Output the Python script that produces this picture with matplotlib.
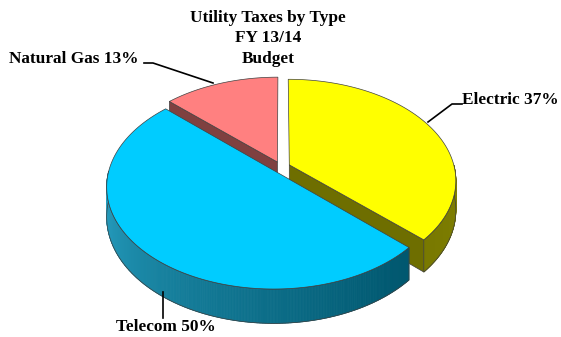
import numpy as np
import matplotlib
matplotlib.use("Agg")
import matplotlib.pyplot as plt
from matplotlib.patches import Polygon

# slice data, drawn clockwise from 12 o'clock
names = ["Electric", "Telecom", "Natural Gas"]
shares = [37, 50, 13]
top_colors = ["#FFFF00", "#00CCFF", "#FF8080"]
title_lines = ["Utility Taxes by Type", "FY 13/14", "Budget"]

# projection of the pie plane onto the page (pixel units)
CX, CY = 281, 167
SX, SY = 165, 99
Q = 0.15          # perspective: back smaller, front larger
DEPTH = 29
EXPLODE = 0.055

FONT = "Liberation Serif"
FS = 12.4


def project(X, Y, z=0.0):
    X = np.asarray(X, float)
    Y = np.asarray(Y, float)
    k = 1.0 / (1.0 + Q * Y)
    return CX + SX * X * k, CY - SY * Y * k + DEPTH * z * k


def mix(c1, c2, t):
    c1 = np.array(c1) / 255.0
    c2 = np.array(c2) / 255.0
    return tuple(c1 + (c2 - c1) * t)


def wall_color(name, th):
    # th in degrees, front half only
    if name == "Telecom":
        t = np.clip((th - 180) / 130.0, 0, 1)
        return mix((45, 170, 205), (0, 88, 112), t ** 0.8)
    if name == "Electric":
        t = np.clip((th + 45) / 45.0, 0, 1)
        return mix((120, 120, 0), (128, 128, 0), t)
    return mix((127, 64, 64), (127, 64, 64), 0)


side_colors = {"Electric": (110 / 255, 110 / 255, 0), "Telecom": (0, 0.4, 0.5),
               "Natural Gas": (127 / 255, 64 / 255, 64 / 255)}

fig = plt.figure(figsize=(5.61, 3.37), dpi=100)
ax = fig.add_axes([0, 0, 1, 1])
ax.set_xlim(0, 561)
ax.set_ylim(337, 0)
ax.axis("off")

# build slices
slices = []
cum = 0.0
for name, share, col in zip(names, shares, top_colors):
    span = share * 3.6
    hi = 90 - cum
    lo = hi - span
    mid = np.radians((hi + lo) / 2)
    dX, dY = EXPLODE * np.cos(mid), EXPLODE * np.sin(mid)
    slices.append(dict(name=name, share=share, color=col, lo=lo, hi=hi, dX=dX, dY=dY))
    cum += span

edge = (0.25, 0.25, 0.25)

# back slices first
for s in sorted(slices, key=lambda s: -s["dY"]):
    lo, hi, dX, dY = s["lo"], s["hi"], s["dX"], s["dY"]

    # radial faces turned towards the viewer
    for ang, normal in ((hi, hi + 90), (lo, lo - 90)):
        if np.sin(np.radians(normal)) < -0.05:
            a = np.radians(ang)
            Xs = [dX, dX + np.cos(a), dX + np.cos(a), dX]
            Ys = [dY, dY + np.sin(a), dY + np.sin(a), dY]
            zs = [0, 0, 1, 1]
            px, py = project(Xs, Ys, np.array(zs, float))
            ax.add_patch(Polygon(np.column_stack([px, py]), closed=True,
                                 facecolor=side_colors[s["name"]], edgecolor=edge,
                                 lw=0.5, zorder=2))

    # outer curved wall on the front half
    th = np.linspace(lo, hi, 400)
    th = th[np.sin(np.radians(th)) < 0]
    if len(th) > 1:
        r = np.radians(th)
        X = dX + np.cos(r)
        Y = dY + np.sin(r)
        tx, ty = project(X, Y, 0)
        bx, by = project(X, Y, 1)
        for i in range(len(th) - 1):
            c = wall_color(s["name"], th[i] % 360 if s["name"] == "Telecom" else th[i])
            quad = [(tx[i], ty[i]), (tx[i + 1], ty[i + 1]), (bx[i + 1], by[i + 1]), (bx[i], by[i])]
            ax.add_patch(Polygon(quad, closed=True, facecolor=c, edgecolor=c, lw=0.6, zorder=2))
        outline = np.vstack([np.column_stack([tx, ty]), np.column_stack([bx, by])[::-1]])
        ax.add_patch(Polygon(outline, closed=True, fill=False, edgecolor=edge, lw=0.5, zorder=2))

    # top face
    r = np.radians(np.linspace(lo, hi, 200))
    Xs = np.concatenate([[dX], dX + np.cos(r)])
    Ys = np.concatenate([[dY], dY + np.sin(r)])
    px, py = project(Xs, Ys, 0)
    ax.add_patch(Polygon(np.column_stack([px, py]), closed=True, facecolor=s["color"],
                         edgecolor=edge, lw=0.5, zorder=2))

# title
for i, line in enumerate(title_lines):
    ax.text(268, 18 + i * 20.5, line, ha="center", va="center", fontsize=FS,
            fontweight="bold", family=FONT, zorder=5)

# labels with leader lines
lab = {s["name"]: f"{s['name']} {s['share']}%" for s in slices}
ax.text(9, 59, lab["Natural Gas"], ha="left", va="center", fontsize=FS,
        fontweight="bold", family=FONT)
ax.plot([144, 153, 213], [63, 63, 83], color="black", lw=1.2, zorder=4)

ax.text(462, 100, lab["Electric"], ha="left", va="center", fontsize=FS,
        fontweight="bold", family=FONT)
ax.plot([462, 452, 428], [104, 104, 122], color="black", lw=1.2, zorder=4)

ax.text(116, 327, lab["Telecom"], ha="left", va="center", fontsize=FS,
        fontweight="bold", family=FONT)
ax.plot([163, 163], [292, 318], color="black", lw=1.2, zorder=4)

fig.savefig("out.png", dpi=100)
